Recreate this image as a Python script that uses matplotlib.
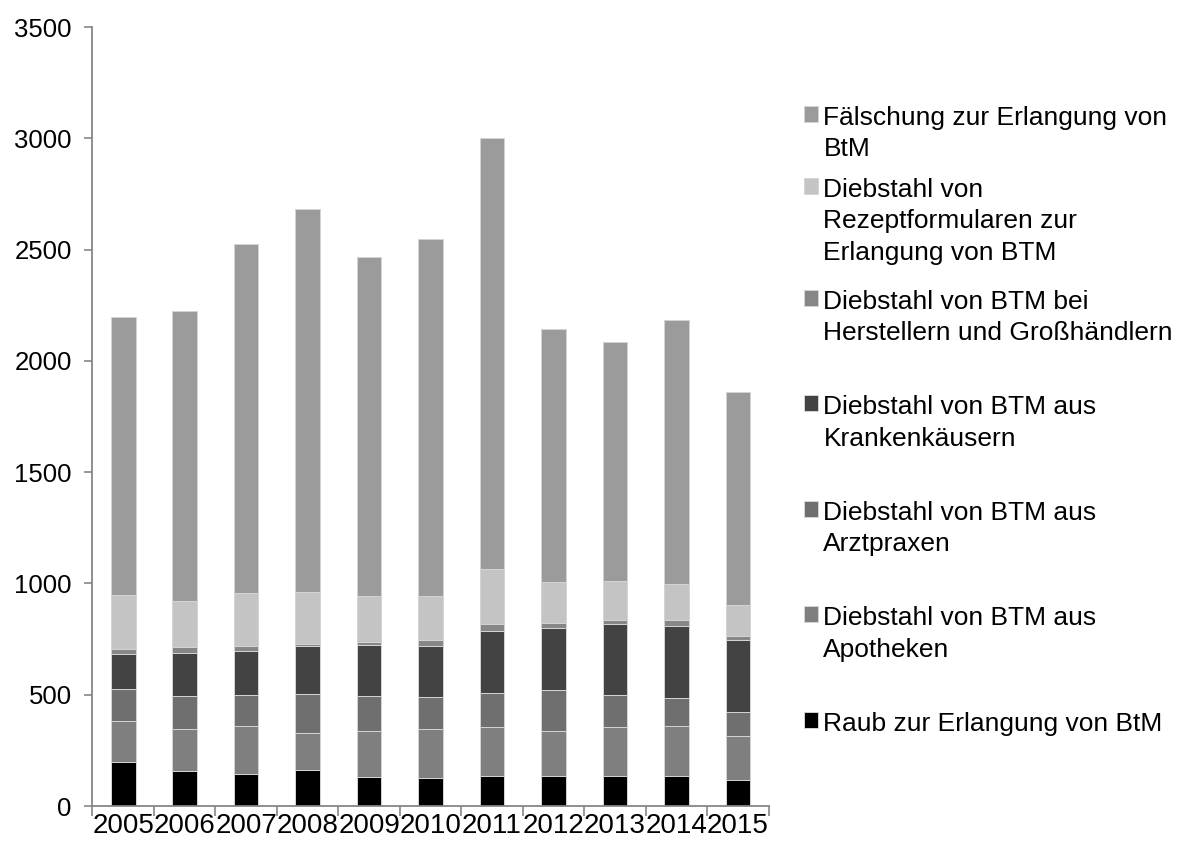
import matplotlib
matplotlib.use("Agg")
import matplotlib.pyplot as plt
import numpy as np

plt.rcParams["font.family"] = ["Liberation Sans", "DejaVu Sans"]

YEARS = ["2005", "2006", "2007", "2008", "2009", "2010", "2011", "2012", "2013", "2014", "2015"]
# stacked from bottom to top
RAUB = [196, 158, 145, 163, 132, 127, 136, 133, 136, 136, 115]
APOTHEKEN = [184, 188, 213, 165, 203, 219, 217, 202, 217, 223, 201]
ARZTPRAXEN = [145, 148, 142, 175, 159, 143, 153, 186, 145, 127, 106]
KRANKENHAUS = [159, 194, 197, 217, 230, 231, 281, 280, 321, 325, 325]
HERSTELLER = [22, 26, 24, 10, 12, 27, 29, 21, 18, 24, 18]
REZEPT = [241, 208, 235, 232, 208, 196, 250, 185, 176, 162, 137]
FAELSCHUNG = [1249, 1303, 1571, 1720, 1525, 1603, 1937, 1136, 1070, 1185, 958]

SERIES = [RAUB, APOTHEKEN, ARZTPRAXEN, KRANKENHAUS, HERSTELLER, REZEPT, FAELSCHUNG]
LABELS = ["Raub zur Erlangung von BtM",
          "Diebstahl von BTM aus\nApotheken",
          "Diebstahl von BTM aus\nArztpraxen",
          "Diebstahl von BTM aus\nKrankenkäusern",
          "Diebstahl von BTM bei\nHerstellern und Großhändlern",
          "Diebstahl von\nRezeptformularen zur\nErlangung von BTM",
          "Fälschung zur Erlangung von\nBtM"]
COLORS = ["#000000", "#7f7f7f", "#6f6f6f", "#434343", "#878787", "#c4c4c4", "#9b9b9b"]

fig = plt.figure(figsize=(11.78, 8.48), dpi=100)
ax = fig.add_axes([0.0785, 0.0495, 0.574, 0.9186])

x = np.arange(len(YEARS))
bottom = np.zeros(len(YEARS))
handles = []
for vals, lab, col in zip(SERIES, LABELS, COLORS):
    h = ax.bar(x, vals, 0.4, bottom=bottom, color=col, edgecolor="#d4d4d4", linewidth=0.7, label=lab)
    handles.append(h)
    bottom += np.array(vals)

ax.set_xlim(-0.5, len(YEARS) - 0.5)
ax.set_ylim(0, 3500)
ax.set_yticks(range(0, 3501, 500))
ax.tick_params(axis="y", labelsize=18.5, length=6, width=1.2, color="#868686", pad=9)
ax.set_xticks(x)
ax.set_xticklabels(YEARS, fontsize=20)
ax.tick_params(axis="x", length=0, pad=5)
ax.set_xticks(np.arange(-0.5, len(YEARS)), minor=True)
ax.tick_params(axis="x", which="minor", length=7, width=1.2, color="#868686")
for s in ["top", "right"]:
    ax.spines[s].set_visible(False)
for s in ["left", "bottom"]:
    ax.spines[s].set_color("#868686")
    ax.spines[s].set_linewidth(1.3)


def add_legend(idx, y, spacing):
    leg = fig.legend([handles[i] for i in idx], [LABELS[i] for i in idx], loc="upper left",
                     bbox_to_anchor=(0.671, y), frameon=False, fontsize=19,
                     handlelength=0.55, handleheight=0.55, handletextpad=0.2,
                     labelspacing=spacing, borderpad=0)
    for t in leg.get_texts():
        t.set_linespacing(1.39)
    # square markers sit on the first text line, like the original
    for col in leg._legend_handle_box.get_children():
        for item in col.get_children():
            item.align = "top"
    return leg


# the original legend is packed tighter at the top than further down
add_legend([6, 5], 0.891, 0.64)
add_legend([4, 3, 2, 1, 0], 0.674, 1.9)

fig.savefig("out.png", dpi=100)
